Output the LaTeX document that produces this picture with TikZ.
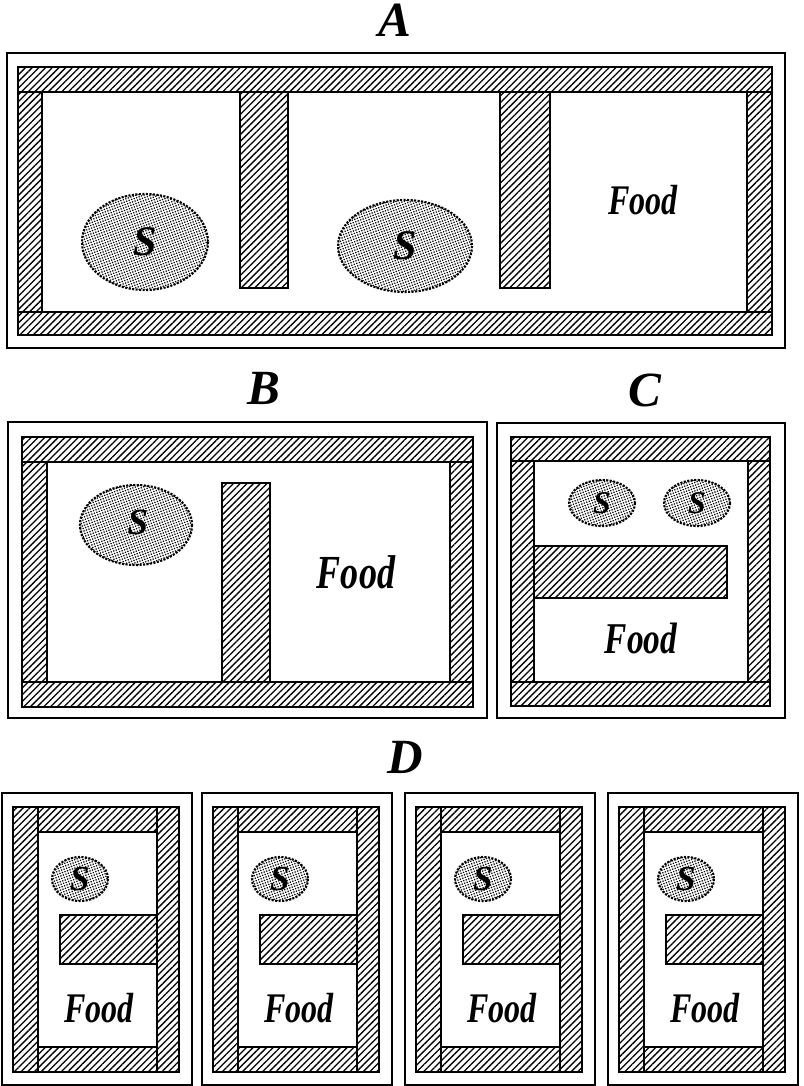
\documentclass[tikz,border=0pt]{standalone}
\usepackage{fontspec}
\setmainfont{Liberation Serif}
\usetikzlibrary{patterns.meta}
\tikzset{
  wall/.style={pattern={Lines[angle=45,distance=2.7pt,line width=0.75pt]}},
  edge/.style={line width=1.2pt},
  seam/.style={line width=0.6pt},
  box/.style={line width=0.9pt},
  blob/.style={pattern={Dots[distance=1.5pt,radius=0.5pt,angle=20]}},
  rim/.style={line width=1.2pt,dash pattern=on 1.2pt off 0.8pt},
  plate/.style={font=\fontsize{28}{28}\selectfont\bfseries\itshape,inner sep=0pt},
  food/.style={font=\fontsize{#1}{#1}\selectfont\bfseries\itshape,inner sep=0pt},
  ess/.style={font=\fontsize{#1}{#1}\selectfont\bfseries\itshape,inner sep=0pt},
}
\newcommand{\condensed}[1]{\scalebox{0.76}[1]{#1}}

\begin{document}
\begin{tikzpicture}[x=0.02cm,y=-0.02cm]
  \useasboundingbox (0,0) rectangle (804,1086);

  % --- A ---
  \node[plate] (labA) at (395,20) {A};
  \draw[box] (7,53) rectangle (785,348);
  \fill[wall,even odd rule] (18,67) rectangle (772,335) (42,92) rectangle (747,312);
  \draw[edge] (18,67) rectangle (772,335);
  \draw[edge] (42,92) rectangle (747,312);
  \draw[seam] (18,92) -- (42,92) (747,92) -- (772,92)
              (18,312) -- (42,312) (747,312) -- (772,312);
  \fill[wall] (240,92) rectangle (288,288);
  \draw[edge] (240,92) -- (240,288) -- (288,288) -- (288,92);
  \fill[wall] (500,92) rectangle (550,288);
  \draw[edge] (500,92) -- (500,288) -- (550,288) -- (550,92);
  \fill[blob] (145,242) ellipse [x radius=63,y radius=48];
  \draw[rim] (145,242) ellipse [x radius=63,y radius=48];
  \node[ess=24pt] (sA1) at (145,242) {S};
  \fill[blob] (405,246) ellipse [x radius=67,y radius=46];
  \draw[rim] (405,246) ellipse [x radius=67,y radius=46];
  \node[ess=24pt] (sA2) at (405,246) {S};
  \node[food=24pt] (foodA) at (643,200) {\condensed{Food}};

  % --- B ---
  \node[plate] (labB) at (264,388) {B};
  \draw[box] (8,422) rectangle (487,718);
  \fill[wall,even odd rule] (22,437) rectangle (473,707) (47,462) rectangle (450,682);
  \draw[edge] (22,437) rectangle (473,707);
  \draw[edge] (47,462) rectangle (450,682);
  \draw[seam] (22,462) -- (47,462) (450,462) -- (473,462)
              (22,682) -- (47,682) (450,682) -- (473,682);
  \fill[wall] (222,483) rectangle (270,682);
  \draw[edge] (222,682) -- (222,483) -- (270,483) -- (270,682);
  \fill[blob] (136,525) ellipse [x radius=56,y radius=40];
  \draw[rim] (136,525) ellipse [x radius=56,y radius=40];
  \node[ess=21pt] (sB) at (138,522) {S};
  \node[food=27pt] (foodB) at (356,572) {\condensed{Food}};

  % --- C ---
  \node[plate] (labC) at (645,390) {C};
  \draw[box] (497,423) rectangle (785,718);
  \fill[wall,even odd rule] (511,437) rectangle (770,706) (534,461) rectangle (748,682);
  \draw[edge] (511,437) rectangle (770,706);
  \draw[edge] (534,461) rectangle (748,682);
  \draw[seam] (511,461) -- (534,461) (748,461) -- (770,461)
              (511,682) -- (534,682) (748,682) -- (770,682);
  \fill[wall] (534,546) rectangle (727,598);
  \draw[edge] (534,546) -- (727,546) -- (727,598) -- (534,598);
  \foreach \cx [count=\i] in {602,697} {
    \fill[blob] (\cx,503) ellipse [x radius=33,y radius=23];
    \draw[rim] (\cx,503) ellipse [x radius=33,y radius=23];
    \node[ess=18pt] (sC\i) at (\cx,503) {S};
  }
  \node[food=25pt] (foodC) at (641,638) {\condensed{Food}};

  % --- D ---
  \node[plate] (labD) at (405,757) {D};
  \foreach \x [count=\i] in {2,202,405,608} {
    \draw[box] (\x,793) rectangle (\x+190,1085);
    \fill[wall,even odd rule] (\x+11,807) rectangle (\x+177,1072) (\x+36,832) rectangle (\x+155,1047);
    \draw[edge] (\x+11,807) rectangle (\x+177,1072);
    \draw[edge] (\x+36,832) rectangle (\x+155,1047);
    \draw[seam] (\x+36,807) -- (\x+36,832) (\x+155,807) -- (\x+155,832)
                (\x+36,1047) -- (\x+36,1072) (\x+155,1047) -- (\x+155,1072);
    \fill[wall] (\x+58,915) rectangle (\x+155,964);
    \draw[edge] (\x+155,915) -- (\x+58,915) -- (\x+58,964) -- (\x+155,964);
    \fill[blob] (\x+78,879) ellipse [x radius=28,y radius=22];
    \draw[rim] (\x+78,879) ellipse [x radius=28,y radius=22];
    \node[ess=20pt] (sD\i) at (\x+78,879) {S};
    \node[food=24pt] (foodD\i) at (\x+97,1008) {\condensed{Food}};
  }
\end{tikzpicture}
\end{document}
